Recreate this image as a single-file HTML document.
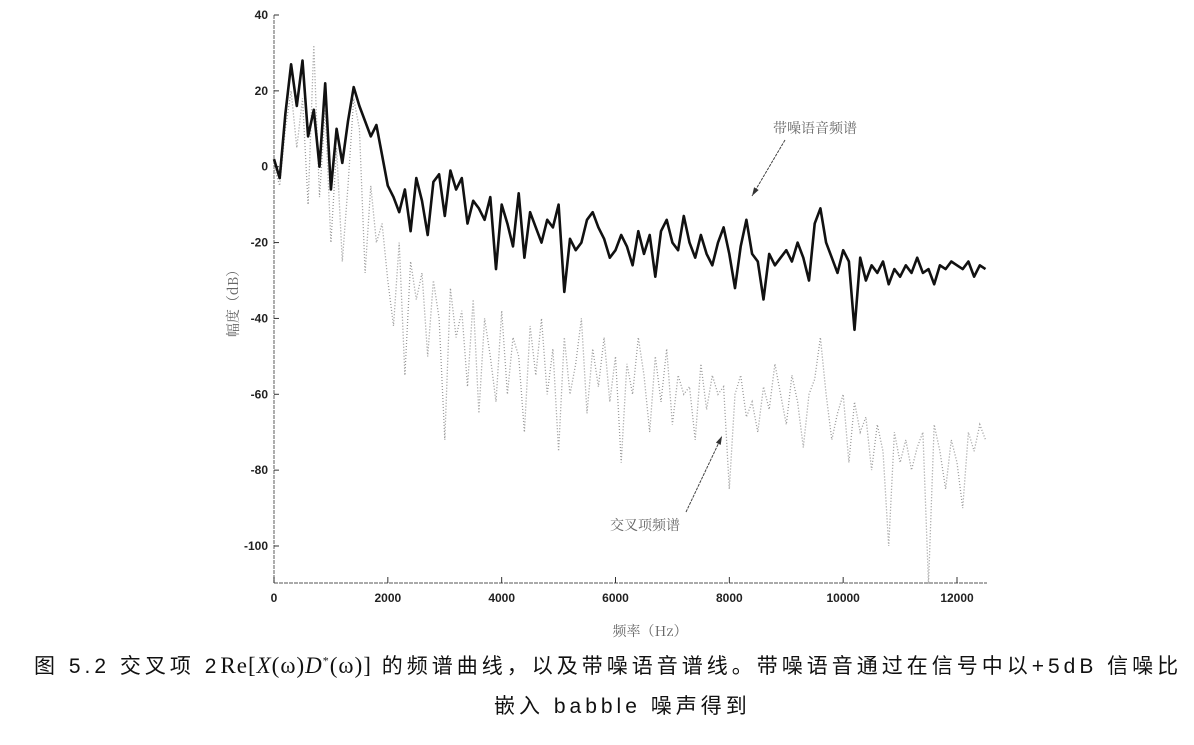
<!DOCTYPE html>
<html><head><meta charset="utf-8"><style>
html,body{margin:0;padding:0;background:#fff;width:1194px;height:745px;overflow:hidden}
svg{position:absolute;left:0;top:0}
.cap{position:absolute;white-space:nowrap;font-family:"Liberation Sans","Noto Sans CJK SC",sans-serif;font-size:21px;letter-spacing:4px;color:#111}
</style></head><body>
<svg id="chart" width="1194" height="745"></svg>
<div class="cap" style="left:34px;top:650px;width:1160px;overflow:hidden">图 5.2 交叉项 2<span style="font-family:'Liberation Serif',serif;font-size:23px;letter-spacing:1px">Re[<i>X</i>(ω)<i>D</i><sup style="font-size:12px">*</sup>(ω)]</span> 的频谱曲线，以及带噪语音谱线。带噪语音通过在信号中以+5dB 信噪比</div>
<div class="cap" style="left:494px;top:690px">嵌入 babble 噪声得到</div>
<script>
const xTicks=[0,2000,4000,6000,8000,10000,12000];
const yTicks=[40,20,0,-20,-40,-60,-80,-100];
const freqStep=100;
const noisySpeech=[2,-3,14,27,16,28,8,15,0,22,-6,10,1,12,21,16,12,8,11,3,-5,-8,-12,-6,-17,-3,-9,-18,-4,-2,-13,-1,-6,-3,-15,-9,-11,-14,-8,-27,-10,-15,-21,-7,-24,-12,-16,-20,-14,-16,-10,-33,-19,-22,-20,-14,-12,-16,-19,-24,-22,-18,-21,-26,-17,-23,-18,-29,-17,-14,-20,-22,-13,-20,-24,-18,-23,-26,-20,-16,-23,-32,-21,-14,-23,-25,-35,-23,-26,-24,-22,-25,-20,-24,-30,-15,-11,-20,-24,-28,-22,-25,-43,-24,-30,-26,-28,-25,-31,-27,-29,-26,-28,-24,-28,-27,-31,-26,-27,-25,-26,-27,-25,-29,-26,-27];
const crossTerm=[0,-5,10,20,5,18,-10,32,-8,15,-20,5,-25,-5,18,10,-28,-5,-20,-15,-30,-42,-20,-55,-25,-35,-28,-50,-30,-40,-72,-32,-45,-38,-58,-35,-65,-40,-50,-62,-38,-60,-45,-50,-70,-42,-55,-40,-60,-48,-75,-45,-60,-52,-40,-65,-48,-58,-45,-62,-50,-78,-52,-60,-45,-55,-70,-50,-62,-48,-68,-55,-60,-58,-72,-52,-64,-55,-60,-58,-85,-60,-55,-66,-62,-70,-58,-64,-52,-60,-68,-55,-62,-74,-60,-56,-45,-60,-72,-65,-60,-78,-62,-70,-66,-80,-68,-75,-100,-70,-78,-72,-80,-74,-70,-110,-68,-75,-85,-72,-78,-90,-70,-75,-68,-72];
const NS="http://www.w3.org/2000/svg";
const svg=document.getElementById('chart');
const X=v=>274+(v/12000)*(957-274);
const Y=v=>15+(40-v)*(546-15)/140;
function mk(t,a){const e=document.createElementNS(NS,t);for(const k in a)e.setAttribute(k,a[k]);svg.appendChild(e);return e;}
let ax=mk('line',{x1:274,y1:15,x2:274,y2:583,stroke:'#777','stroke-width':1.2,'stroke-dasharray':'4 1'});


ax=mk('line',{x1:274,y1:583,x2:987,y2:583,stroke:'#777','stroke-width':1.2,'stroke-dasharray':'4 1'});


xTicks.forEach(v=>{
 const l=mk('line',{x1:X(v),y1:583,x2:X(v),y2:577,stroke:'#333','stroke-width':1});
 
 
 const t=mk('text',{x:X(v),y:602,'text-anchor':'middle','font-family':'Liberation Sans, sans-serif','font-size':12,'font-weight':'bold',fill:'#222'});
 t.textContent=v;
 
 
});
yTicks.forEach(v=>{
 const l=mk('line',{x1:274,y1:Y(v),x2:279,y2:Y(v),stroke:'#333','stroke-width':1});
 
 
 const t=mk('text',{x:268,y:Y(v)+4,'text-anchor':'end','font-family':'Liberation Sans, sans-serif','font-size':12,'font-weight':'bold',fill:'#222'});
 t.textContent=v;
 
 
});
const cp=crossTerm.map((v,i)=>X(i*freqStep).toFixed(1)+','+Y(v).toFixed(1)).join(' ');
const c=mk('polyline',{points:cp,fill:'none',stroke:'#999','stroke-width':1.3,'stroke-dasharray':'1 2'});


const np=noisySpeech.map((v,i)=>X(i*freqStep).toFixed(1)+','+Y(v).toFixed(1)).join(' ');
const n=mk('polyline',{points:np,fill:'none',stroke:'#111','stroke-width':2.6,'stroke-linejoin':'round'});


function arrow(x1,y1,x2,y2,name){
 const l=mk('line',{x1,y1,x2,y2,stroke:'#444','stroke-width':1,'stroke-dasharray':'3 1'});
 
 
 const a=Math.atan2(y2-y1,x2-x1),s=9;
 const p=[[x2,y2],[x2-s*Math.cos(a-0.3),y2-s*Math.sin(a-0.3)],[x2-s*Math.cos(a+0.3),y2-s*Math.sin(a+0.3)]];
 const h=mk('polygon',{points:p.map(q=>q.join(',')).join(' '),fill:'#333'});
 
 
}
arrow(785,140,752,196,'noisy-speech-arrow');
arrow(686,512,722,436,'cross-term-arrow');
function label(x,y,txt,name,extra){
 const t=mk('text',Object.assign({x,y,'font-family':'Noto Serif CJK SC, serif','font-size':14,fill:'#666'},extra||{}));
 t.textContent=txt;
 
 
}
label(773,133,'带噪语音频谱','noisy-speech-annotation');
label(610,530,'交叉项频谱','cross-term-annotation');
label(650,636,'频率（Hz）','x-axis-title',{'text-anchor':'middle'});
label(0,0,'幅度（dB）','y-axis-title',{'text-anchor':'middle',transform:'translate(238,300) rotate(-90)'});
</script>
</body></html>
